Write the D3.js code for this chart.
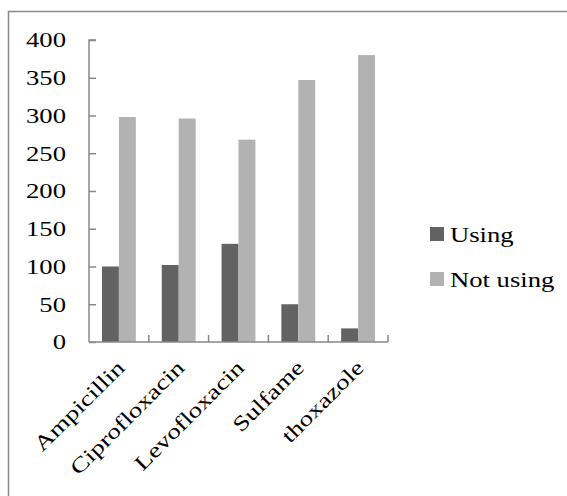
<!DOCTYPE html>
<html>
<head>
<meta charset="utf-8">
<script src="https://cdn.jsdelivr.net/npm/d3@7"></script>
<style>
  html, body { margin: 0; padding: 0; background: #fff; }
  svg { display: block; }
</style>
</head>
<body>
<svg id="chart" width="567" height="496"></svg>
<script>
const categories = ["Ampicillin", "Ciprofloxacin", "Levofloxacin", "Sulfame", "thoxazole"];
const seriesNames = ["Using", "Not using"];
const usingValues = [100, 102, 130, 50, 18];
const notUsingValues = [298, 296, 268, 347, 380];
const yTicks = [0, 50, 100, 150, 200, 250, 300, 350, 400];
const seriesColors = ["#626262", "#b2b2b2"];

const seriesValues = [usingValues, notUsingValues];
const rows = categories.map((c, i) => ({
  category: c,
  values: seriesNames.map((s, k) => ({ series: s, value: seriesValues[k][i] }))
}));

const FONT = "'Liberation Serif', 'DejaVu Serif', serif";
const WIDEN = 1.3; // text is set wide
const svg = d3.select("#chart");
const axisColor = "#888888";

// outer chart frame (open to the right and bottom)
svg.append("path")
  .attr("d", "M8.5,497 V11.5 H568")
  .attr("fill", "none")
  .attr("stroke", axisColor)
  .attr("stroke-width", 1.5);

const plot = { left: 89, right: 388, top: 40, bottom: 342 };

const x = d3.scaleBand()
  .domain(categories)
  .range([plot.left, plot.right])
  .paddingInner(0)
  .paddingOuter(0);

const xSub = d3.scaleBand()
  .domain(seriesNames)
  .range([0, x.bandwidth()])
  .paddingInner(0)
  .paddingOuter(0.765);

const y = d3.scaleLinear()
  .domain([0, 400])
  .range([plot.bottom, plot.top]);

const color = d3.scaleOrdinal().domain(seriesNames).range(seriesColors);

// bars
const groups = svg.append("g").selectAll("g")
  .data(rows)
  .join("g")
  .attr("transform", d => `translate(${x(d.category)},0)`);

groups.selectAll("rect")
  .data(d => d.values)
  .join("rect")
  .attr("x", d => xSub(d.series))
  .attr("width", xSub.bandwidth())
  .attr("y", d => y(d.value))
  .attr("height", d => y(0) - y(d.value))
  .attr("fill", d => color(d.series));

// y axis with inside ticks
const yAxis = d3.axisRight(y)
  .tickValues(yTicks)
  .tickSize(7)
  .tickFormat("");
const yg = svg.append("g")
  .attr("transform", `translate(${plot.left},0)`)
  .call(yAxis);
yg.select(".domain").attr("stroke", axisColor).attr("stroke-width", 1.5)
  .attr("d", `M7,${plot.top}H0V${plot.bottom}`);
yg.selectAll(".tick line").attr("stroke", axisColor).attr("stroke-width", 1.5);

svg.append("g").selectAll("text")
  .data(yTicks)
  .join("text")
  .attr("transform", d => `translate(66,${y(d)}) scale(${WIDEN},1)`)
  .attr("dy", "0.36em")
  .attr("text-anchor", "end")
  .attr("font-family", FONT)
  .attr("font-size", 20.5)
  .attr("fill", "#000")
  .text(d => d);

// x axis with inside ticks at category boundaries
const boundaries = categories.map(c => x(c)).concat([plot.right]);
const xg = svg.append("g");
xg.append("line")
  .attr("x1", plot.left).attr("x2", plot.right)
  .attr("y1", plot.bottom).attr("y2", plot.bottom)
  .attr("stroke", axisColor).attr("stroke-width", 1.5);
xg.selectAll("line.tick")
  .data(boundaries.slice(1))
  .join("line")
  .attr("class", "tick")
  .attr("x1", d => d).attr("x2", d => d)
  .attr("y1", plot.bottom).attr("y2", plot.bottom - 7)
  .attr("stroke", axisColor).attr("stroke-width", 1.5);

// rotated category labels
svg.append("g").selectAll("text")
  .data(categories)
  .join("text")
  .attr("text-anchor", "end")
  .attr("font-family", FONT)
  .attr("font-size", 21)
  .attr("fill", "#000")
  .attr("transform", d => `translate(${x(d) + x.bandwidth() / 2 + 7},${plot.bottom + 27}) rotate(-45) scale(${WIDEN},1)`)
  .text(d => d);

// legend
const legend = svg.append("g").selectAll("g")
  .data(seriesNames)
  .join("g")
  .attr("transform", (d, i) => `translate(430,${227 + i * 45})`);
legend.append("rect")
  .attr("width", 14).attr("height", 14)
  .attr("fill", d => color(d));
legend.append("text")
  .attr("transform", `translate(20,14.5) scale(${WIDEN},1)`)
  .attr("font-family", FONT)
  .attr("font-size", 20.5)
  .attr("fill", "#000")
  .text(d => d);
</script>
</body>
</html>
